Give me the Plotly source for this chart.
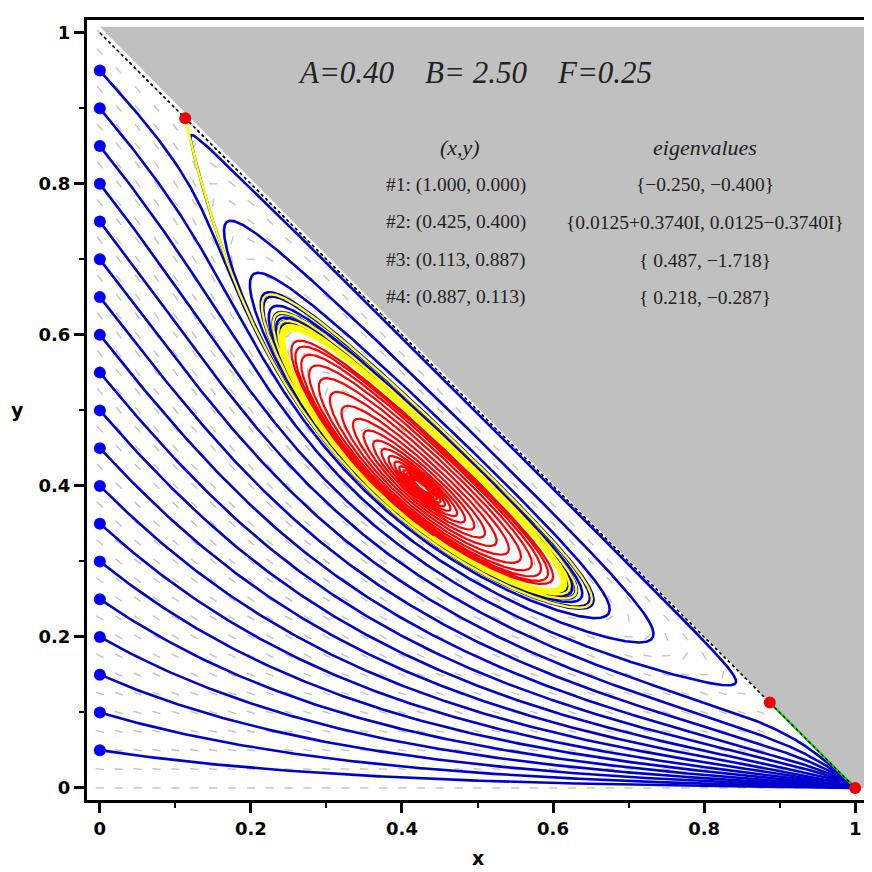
import numpy as np
import plotly.graph_objects as go

# ---- data ----
A = 0.40
B = 2.50
F = 0.25
blue_y0 = [0.05, 0.10, 0.15, 0.20, 0.25, 0.30, 0.35, 0.40, 0.45, 0.50,
           0.55, 0.60, 0.65, 0.70, 0.75, 0.80, 0.85, 0.90, 0.95]
fixed_labels = ["#1: (1.000, 0.000)", "#2: (0.425, 0.400)",
                "#3: (0.113, 0.887)", "#4: (0.887, 0.113)"]
eig_labels = ["{\u22120.250, \u22120.400}",
              "{0.0125+0.3740I, 0.0125\u22120.3740I}",
              "{ 0.487, \u22121.718}",
              "{ 0.218, \u22120.287}"]
fp_x = [1.000, 0.425, 0.113, 0.887]
fp_y = [0.000, 0.400, 0.887, 0.113]
tick_vals = [0, 0.2, 0.4, 0.6, 0.8, 1]
tick_text = ["0", "0.2", "0.4", "0.6", "0.8", "1"]


def rhs(x, y):
    z = 1 - x - y
    dx = -B * x * y ** 2 + F * y + A * z
    dy = B * x * y ** 2 - F * y - y * z
    return dx, dy


def integrate(x0, y0, T, dt=0.01, every=2):
    n = int(T / dt)
    xs = [x0]; ys = [y0]
    x, y = x0, y0
    for i in range(n):
        k1 = rhs(x, y)
        k2 = rhs(x + dt / 2 * k1[0], y + dt / 2 * k1[1])
        k3 = rhs(x + dt / 2 * k2[0], y + dt / 2 * k2[1])
        k4 = rhs(x + dt * k3[0], y + dt * k3[1])
        x += dt / 6 * (k1[0] + 2 * k2[0] + 2 * k3[0] + k4[0])
        y += dt / 6 * (k1[1] + 2 * k2[1] + 2 * k3[1] + k4[1])
        if i % every == 0:
            xs.append(x); ys.append(y)
    return xs, ys


fig = go.Figure()

# gray infeasible region x+y>1
fig.add_trace(go.Scatter(x=[0, 1.012, 1.012, 1, 0], y=[1.008, 1.008, 0, 0, 1.008],
                         fill="toself", fillcolor="#c0c0c0", line=dict(width=0),
                         mode="lines", hoverinfo="skip", showlegend=False))
fig.add_trace(go.Scatter(x=[0, 1], y=[1, 0], mode="lines",
                         line=dict(color="black", width=1.5, dash="dot"),
                         showlegend=False))

# direction field
g = np.arange(0, 1.0001, 0.025)
fx, fy = [], []
L = 0.0055
for gx in g:
    for gy in g:
        if gx + gy <= 1.0001:
            dx, dy = rhs(gx, gy)
            n = np.hypot(dx, dy)
            if n == 0:
                continue
            ux, uy = dx / n * L, dy / n * L
            fx += [gx - ux, gx + ux, None]
            fy += [gy - uy, gy + uy, None]
fig.add_trace(go.Scatter(x=fx, y=fy, mode="lines",
                         line=dict(color="rgb(195,195,195)", width=1.4),
                         hoverinfo="skip", showlegend=False))

# blue trajectories
for y0 in blue_y0:
    xs, ys = integrate(0.0, y0, 80)
    fig.add_trace(go.Scatter(x=xs, y=ys, mode="lines",
                             line=dict(color="rgb(0,0,205)", width=2.6),
                             showlegend=False))
fig.add_trace(go.Scatter(x=[0] * len(blue_y0), y=blue_y0, mode="markers",
                         marker=dict(color="rgb(0,0,255)", size=12),
                         showlegend=False))

# yellow: unstable manifold of saddle #3
xs, ys = integrate(fp_x[2] - 0.0005, fp_y[2] - 0.0005, 250)
fig.add_trace(go.Scatter(x=xs, y=ys, mode="lines",
                         line=dict(color="rgb(255,255,0)", width=2.4),
                         showlegend=False))

# red: from the unstable focus #2
xs, ys = integrate(fp_x[1] + 0.004, fp_y[1], 320)
fig.add_trace(go.Scatter(x=xs, y=ys, mode="lines",
                         line=dict(color="rgb(255,0,0)", width=2.2),
                         showlegend=False))

# green: along the boundary from saddle #4 to #1
xs, ys = integrate(fp_x[3] + 0.0005, fp_y[3] - 0.0012, 60)
fig.add_trace(go.Scatter(x=xs, y=ys, mode="lines",
                         line=dict(color="rgb(0,210,0)", width=2.2),
                         showlegend=False))
fig.add_trace(go.Scatter(x=[0, 1], y=[1, 0], mode="lines",
                         line=dict(color="black", width=1.2, dash="dot"),
                         showlegend=False))

# red fixed points
fig.add_trace(go.Scatter(x=[fp_x[0], fp_x[2], fp_x[3]], y=[fp_y[0], fp_y[2], fp_y[3]],
                         mode="markers", marker=dict(color="rgb(240,0,0)", size=12),
                         showlegend=False))

# text
serif = "Liberation Serif"
fig.add_annotation(x=0.497, y=0.948, xref="x", yref="y", showarrow=False,
                   text="<i>A=0.40&nbsp;&nbsp;&nbsp;&nbsp;B= 2.50&nbsp;&nbsp;&nbsp;&nbsp;F=0.25</i>",
                   font=dict(family=serif, size=31, color="#222"))
fig.add_annotation(x=0.477, y=0.848, xref="x", yref="y", showarrow=False,
                   text="<i>(x,y)</i>", font=dict(family=serif, size=22, color="#222"))
fig.add_annotation(x=0.801, y=0.848, xref="x", yref="y", showarrow=False,
                   text="<i>eigenvalues</i>", font=dict(family=serif, size=22, color="#222"))
row_y = [0.799, 0.749, 0.699, 0.650]
for lab, ev, ry in zip(fixed_labels, eig_labels, row_y):
    fig.add_annotation(x=0.472, y=ry, xref="x", yref="y", showarrow=False,
                       text=lab, font=dict(family=serif, size=19.5, color="#222"))
    fig.add_annotation(x=0.801, y=ry, xref="x", yref="y", showarrow=False,
                       text=ev, font=dict(family=serif, size=19.5, color="#222"))

fig.add_annotation(x=0.5, y=0, xref="x", yref="paper", yshift=-58, yanchor="middle",
                   showarrow=False,
                   text="<b>x</b>", font=dict(family="DejaVu Sans", size=19, color="black"))
fig.add_annotation(x=0, y=0.5, xref="paper", yref="paper", xshift=-70, xanchor="center",
                   showarrow=False,
                   text="<b>y</b>", font=dict(family="DejaVu Sans", size=19, color="black"))

axis_common = dict(showline=True, linecolor="black", linewidth=3, mirror=True,
                   ticks="outside", ticklen=10, tickwidth=3, tickcolor="black",
                   tickvals=tick_vals, ticktext=tick_text, automargin=False,
                   tickfont=dict(family="DejaVu Sans", size=18, color="black", weight="bold"),
                   showgrid=False, zeroline=False,
                   minor=dict(ticks="outside", ticklen=5, tickwidth=2, tickcolor="black",
                              dtick=0.1, tick0=0, showgrid=False))
fig.update_xaxes(range=[-0.017, 1.017], **axis_common)
fig.update_yaxes(range=[-0.016, 1.017], **axis_common)
# the page body adds an 8px margin, so the figure is 8px smaller than the window
fig.update_layout(width=864, height=864, plot_bgcolor="white", paper_bgcolor="white",
                  margin=dict(l=79, r=4, t=12, b=72), showlegend=False)
fig.write_html("out.html")
